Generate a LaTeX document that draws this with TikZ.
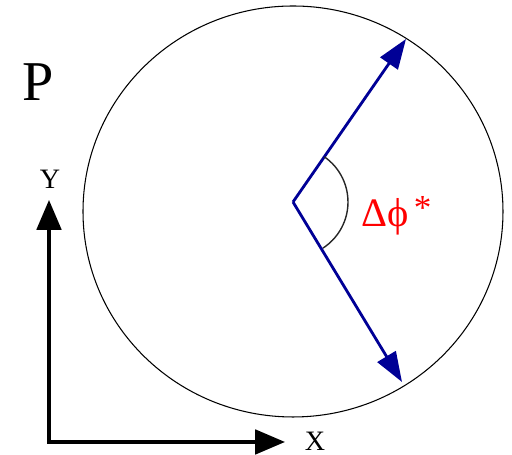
\documentclass[tikz,border=0pt]{standalone}
\usepackage{fontspec}
\usepackage{xcolor}
\usepackage{tikz}
\usetikzlibrary{arrows.meta}
\newfontfamily\symfont{Liberation Serif}
\definecolor{vecblue}{RGB}{0,0,150}

\begin{document}
\begin{tikzpicture}[x=0.02cm,y=0.02cm,>={Triangle[length=17pt,width=12pt]}]
  \useasboundingbox (0,0) rectangle (512,455);
  \draw[black, line width=0.6pt] (293,243.5) ellipse [x radius=210, y radius=205.5];
  \coordinate (o) at (293,253);
  \coordinate (t1) at (406,416);
  \coordinate (t2) at (402,73);
  \coordinate (ax0) at (49,13);
  \coordinate (axY) at (49,255);
  \coordinate (axX) at (285,13);
  \draw[->, vecblue, line width=1.6pt] (o) -- (t1);
  \draw[->, vecblue, line width=1.6pt] (o) -- (t2);
  \draw[black!85, line width=0.8pt] (o) ++(55.3:55) arc[start angle=55.3, end angle=-57, radius=55];
  \draw[{Triangle[length=17pt,width=14pt]}-{Triangle[length=17pt,width=14pt]}, line width=1.8pt, line join=miter] (axY) -- (ax0) -- (axX);
  \node[font=\symfont\fontsize{32}{36}\selectfont, inner sep=0pt] (lblP) at (38,373) {P};
  \node[font=\symfont\fontsize{16}{19}\selectfont, inner sep=0pt] (lblY) at (50,276) {Y};
  \node[font=\symfont\fontsize{16}{19}\selectfont, inner sep=0pt] (lblX) at (315,14) {X};
  \node[font=\symfont\fontsize{23}{27}\selectfont, text=red, anchor=base west, inner sep=0pt] (lblPhi) at (361,228) {Δϕ\hspace{3pt}\raisebox{4pt}{\fontsize{20}{24}\selectfont *}};
\end{tikzpicture}
\end{document}
